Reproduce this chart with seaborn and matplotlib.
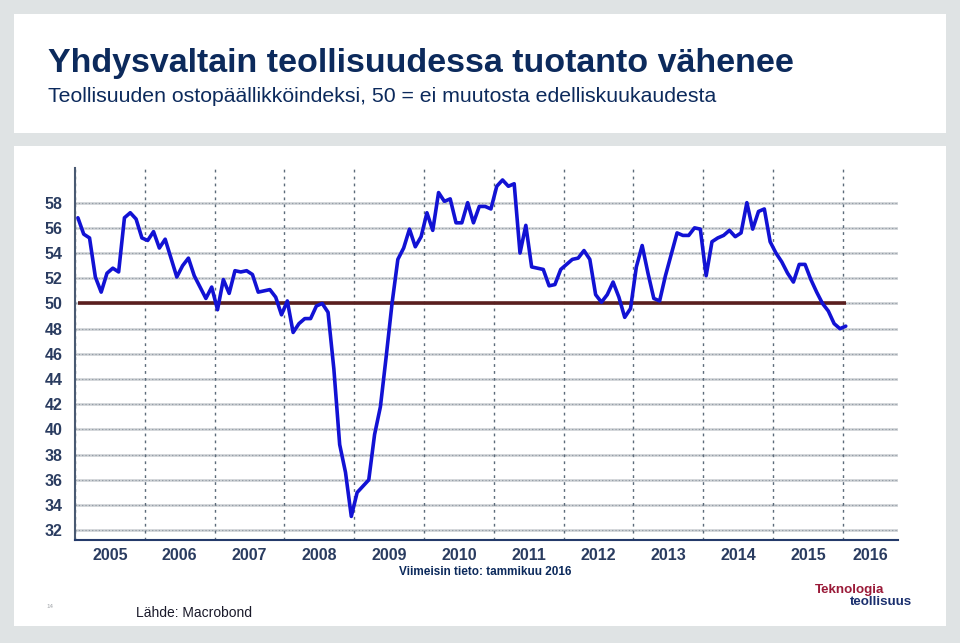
import numpy as np
import pandas as pd
import matplotlib
matplotlib.use("Agg")
import matplotlib.pyplot as plt
from matplotlib.patches import Rectangle
import seaborn as sns

# ISM manufacturing PMI, monthly, Jan 2005 - Jan 2016
pmi_2005 = [56.8, 55.5, 55.2, 52.1, 50.9, 52.4, 52.8, 52.5, 56.8, 57.2, 56.7, 55.2]
pmi_2006 = [55.0, 55.7, 54.4, 55.1, 53.6, 52.1, 53.0, 53.6, 52.2, 51.3, 50.4, 51.3]
pmi_2007 = [49.5, 51.9, 50.8, 52.6, 52.5, 52.6, 52.3, 50.9, 51.0, 51.1, 50.5, 49.1]
pmi_2008 = [50.2, 47.7, 48.4, 48.8, 48.8, 49.8, 50.0, 49.3, 44.8, 38.8, 36.6, 33.1]
pmi_2009 = [35.0, 35.5, 36.0, 39.6, 41.8, 45.8, 50.0, 53.5, 54.4, 55.9, 54.5, 55.3]
pmi_2010 = [57.2, 55.8, 58.8, 58.1, 58.3, 56.4, 56.4, 58.0, 56.4, 57.7, 57.7, 57.5]
pmi_2011 = [59.3, 59.8, 59.3, 59.5, 54.0, 56.2, 52.9, 52.8, 52.7, 51.4, 51.5, 52.7]
pmi_2012 = [53.1, 53.5, 53.6, 54.2, 53.5, 50.7, 50.1, 50.7, 51.7, 50.5, 48.9, 49.6]
pmi_2013 = [52.9, 54.6, 52.4, 50.4, 50.2, 52.2, 53.9, 55.6, 55.4, 55.4, 56.0, 55.9]
pmi_2014 = [52.2, 54.9, 55.2, 55.4, 55.8, 55.3, 55.6, 58.0, 55.9, 57.3, 57.5, 54.9]
pmi_2015 = [54.0, 53.3, 52.4, 51.7, 53.1, 53.1, 51.9, 50.9, 50.0, 49.4, 48.4, 48.0]
pmi_2016 = [48.2]

years = list(range(2005, 2017))
y_ticks = list(range(32, 60, 2))
neutral_level = 50

pmi = (pmi_2005 + pmi_2006 + pmi_2007 + pmi_2008 + pmi_2009 + pmi_2010
       + pmi_2011 + pmi_2012 + pmi_2013 + pmi_2014 + pmi_2015 + pmi_2016)
months = pd.date_range("2005-01-01", periods=len(pmi), freq="MS")
df = pd.DataFrame({
    "t": months.year + (months.month - 0.5) / 12,
    "pmi": pmi,
})

sns.set_style("white")
plt.rcParams["font.family"] = ["Liberation Sans", "DejaVu Sans"]

W, H = 960, 643
fig = plt.figure(figsize=(W / 100, H / 100), dpi=100, facecolor="#dfe3e4")


def fx(x):
    return x / W


def fy(y):
    return 1 - y / H


# white panels (behind the axes)
fig.patches.append(Rectangle((fx(14), fy(133)), fx(932), 119 / H, transform=fig.transFigure,
                             facecolor="white", edgecolor="none", zorder=-5))
fig.patches.append(Rectangle((fx(14), fy(626)), fx(932), 480 / H, transform=fig.transFigure,
                             facecolor="white", edgecolor="none", zorder=-5))

ax = fig.add_axes([fx(75), fy(540), fx(823), 372 / H])
ax.set_zorder(2)
ax.set_facecolor("white")

x_max = 2016.79
ax.set_xlim(2005, x_max)
ax.set_ylim(31.23, 60.75)

# grid
for v in y_ticks:
    ax.axhline(v, color="#c9cdd1", lw=1.8, zorder=1)
    ax.axhline(v, color="#8e98a2", lw=0.8, ls=(0, (1, 2)), zorder=1)
for yr in years:
    ax.axvline(yr, color="#5c6b7a", lw=1.0, ls=(0, (2, 3)), zorder=1)

ax.hlines(neutral_level, df["t"].iloc[0], df["t"].iloc[-1], color="#5a1f1f", lw=2.6, zorder=2)
sns.lineplot(data=df, x="t", y="pmi", ax=ax, color="#1212d4", lw=2.6, zorder=3)

tick_color = "#2a3c60"
ax.set_yticks(y_ticks)
ax.set_yticklabels([str(v) for v in y_ticks], fontsize=11.5, fontweight="bold", color=tick_color)
ax.set_xticks(years)
ax.set_xticklabels([])
centers = [min(yr + 0.5, (yr + x_max) / 2) for yr in years]
ax.set_xticks(centers, minor=True)
ax.set_xticklabels([str(yr) for yr in years], minor=True, fontsize=11.5,
                   fontweight="bold", color=tick_color)
ax.tick_params(axis="y", length=0, pad=9)
ax.tick_params(axis="x", which="both", length=0, pad=6)
ax.set_xlabel("")
ax.set_ylabel("")

for side in ["top", "right"]:
    ax.spines[side].set_visible(False)
ax.spines["left"].set_color("#4a5a72")
ax.spines["left"].set_linewidth(1.5)
ax.spines["bottom"].set_color("#243a6a")
ax.spines["bottom"].set_linewidth(1.5)

navy = "#0c2a5c"
fig.text(fx(48), fy(72), "Yhdysvaltain teollisuudessa tuotanto vähenee", fontsize=24.5,
         fontweight="bold", color=navy, va="baseline", ha="left")
fig.text(fx(48), fy(102), "Teollisuuden ostopäällikköindeksi, 50 = ei muutosta edelliskuukaudesta",
         fontsize=15.3, color=navy, va="baseline", ha="left")
fig.text(fx(485), fy(575), "Viimeisin tieto: tammikuu 2016", fontsize=8.5, fontweight="bold",
         color=navy, va="baseline", ha="center")
fig.text(fx(136), fy(617), "Lähde: Macrobond", fontsize=10, color="#1a1a2a",
         va="baseline", ha="left")
fig.text(fx(46), fy(606), "14", fontsize=4.5, color="#a0a4a8", va="center", ha="left")
fig.text(fx(884), fy(593), "Teknologia", fontsize=9.6, fontweight="bold", color="#9a1a38",
         va="baseline", ha="right")
fig.text(fx(912), fy(605), "teollisuus", fontsize=9.6, fontweight="bold", color="#1a2f6e",
         va="baseline", ha="right")

fig.savefig("out.png", dpi=100, facecolor=fig.get_facecolor())
